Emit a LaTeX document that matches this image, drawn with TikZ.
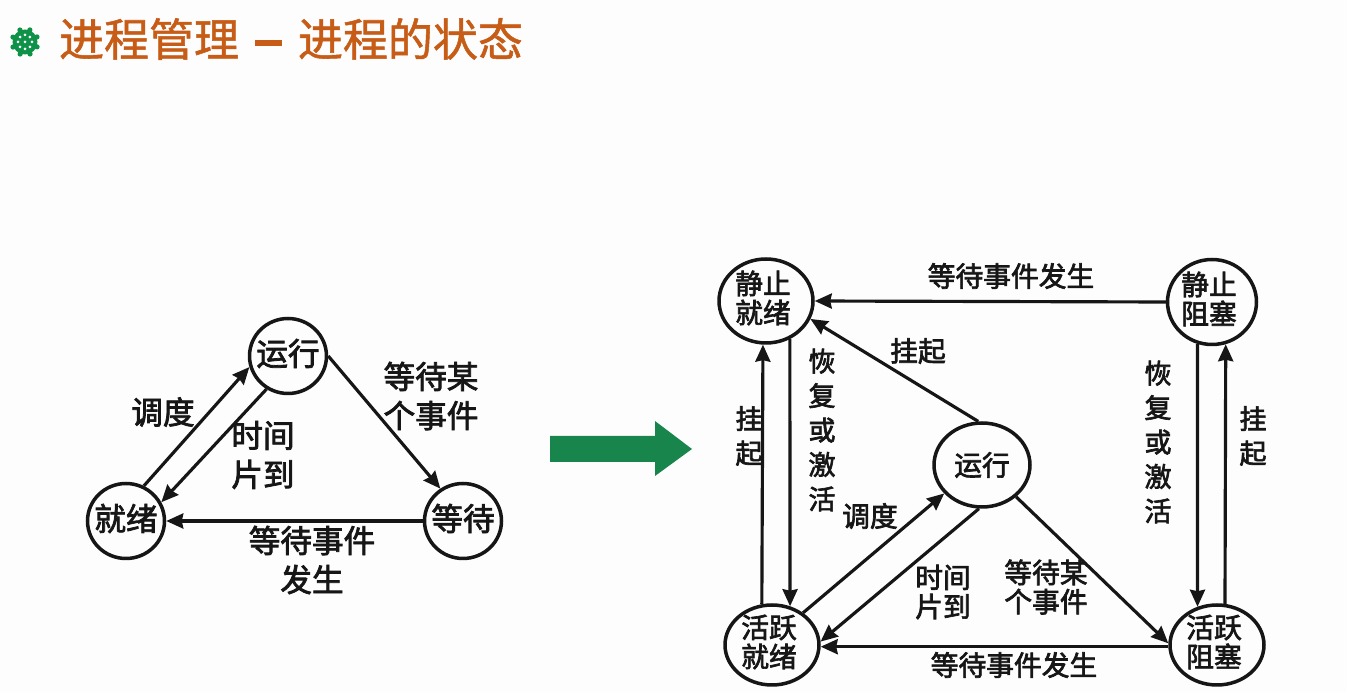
\documentclass[tikz,border=0pt]{standalone}
\usepackage{fontspec}
\usetikzlibrary{arrows.meta,shapes.geometric}
\newfontfamily\cjk[FakeBold=2.4]{Noto Sans CJK SC}
\newfontfamily\cjktitle[FakeBold=1.2]{Noto Sans CJK SC}
\definecolor{paper}{RGB}{253,253,253}
\definecolor{rust}{RGB}{198,92,22}
\definecolor{forest}{RGB}{24,134,76}
\definecolor{wheel}{RGB}{14,146,72}
\definecolor{ink}{RGB}{22,22,22}
\tikzset{
  >={Stealth[length=3.4mm,width=3mm,inset=0.3mm]},
  state/.style={ellipse,draw=ink,line width=2pt,inner sep=0pt,minimum width=#1},
  state/.default=1.54cm,
  flow/.style={->,line width=1.8pt,draw=ink},
  biglabel/.style={text=ink,align=center,inner sep=0pt,font=\cjk\fontsize{18}{22.2}\selectfont},
  smalllabel/.style={text=ink,align=center,inner sep=0pt,font=\cjk\fontsize{15.8}{16.6}\selectfont},
  tall/.style={text=ink,align=center,inner sep=0pt,font=\cjk\fontsize{15.4}{19.6}\selectfont},
}
\begin{document}
\begin{tikzpicture}[x=0.02cm,y=-0.02cm]
  \useasboundingbox (0,0) rectangle (1347,692);
  \fill[paper] (0,0) rectangle (1347,692);
  % title
  \fill[wheel,shift={(25,42)}] (0,0) circle (12.5)
    \foreach \a in {0,45,...,315} {(\a+22:13) circle (2.6)};
  \fill[white,shift={(25,42)}] (0,0) circle (1.5)
    \foreach \a in {0,45,...,315} {(\a:7) circle (1.5)};
  \node[text=rust,inner sep=0pt,font=\cjktitle\fontsize{25.6}{30}\selectfont] (title) at (291,39)
    {进程管理\hspace{3.2mm}\rule[2mm]{5.4mm}{1.2mm}\hspace{3.2mm}进程的状态};
  % left part
  \foreach \n/\t/\x/\y in {run/运行/288/356,ready/就绪/126/521,wait/等待/463/521}
    \node[state,minimum height=1.5cm,label={[biglabel,yshift=0.5mm]center:\t}] (\n) at (\x,\y) {};
  \foreach \a/\b in {ready.63/run.196,run.237/ready.28,run.0/wait.125,wait.180/ready.0}
    \draw[flow] (\a) -- (\b);
  \node[biglabel] (lsched) at (163,412) {调度};
  \node[biglabel] (ltime) at (263,455) {时间\\片到};
  \node[biglabel] (lwaitfor) at (431,396) {等待某\\个事件};
  \node[biglabel] (ldone) at (312,560) {等待事件\\发生};
  % big arrow
  \fill[forest] (550,436) -- (655,436) -- (655,421) -- (692,449) -- (655,476) -- (655,462) -- (550,462) -- cycle;
  % right part
  \foreach \n/\t/\x/\y/\w/\h in {sready/静止\\就绪/766/301/1.88cm/1.68cm,
      sblock/静止\\阻塞/1212/302/1.78cm/1.7cm,
      aready/活跃\\就绪/772/645/1.88cm/1.6cm,
      ablock/活跃\\阻塞/1217/645/1.88cm/1.6cm}
    \node[state=\w,minimum height=\h,label={[smalllabel,xshift=-0.6mm,yshift=0.6mm]center:{\t}}] (\n) at (\x,\y) {};
  \node[state=1.92cm,minimum height=1.68cm,label={[smalllabel]center:运行}] (arun) at (982,465) {};
  \foreach \a/\b in {sblock.180/sready.0,arun.95/sready.-22,aready.104/sready.266,sready.-58/aready.65,
      aready.46/arun.217,arun.266/aready.4,arun.-43/ablock.178,ablock.182/aready.-2,
      sblock.251/ablock.117,ablock.79/sblock.-72}
    \draw[flow] (\a) -- (\b);
  \node[smalllabel] (rdone) at (1011,276) {等待事件发生};
  \node[smalllabel] (rhang) at (918,351) {挂起};
  \node[tall] (rresume) at (822,430) {恢\\复\\或\\激\\活};
  \node[tall] (rresumeb) at (1158,442) {恢\\复\\或\\激\\活};
  \node[tall] (rhanga) at (749,436) {挂\\起};
  \node[tall] (rhangb) at (1253,436) {挂\\起};
  \node[smalllabel] (rsched) at (870,516) {调度};
  \node[smalllabel] (rtime) at (943,592) {时间\\片到};
  \node[smalllabel] (rwaitfor) at (1046,587) {等待某\\个事件};
  \node[smalllabel] (rdoneb) at (1014,665) {等待事件发生};
\end{tikzpicture}
\end{document}
